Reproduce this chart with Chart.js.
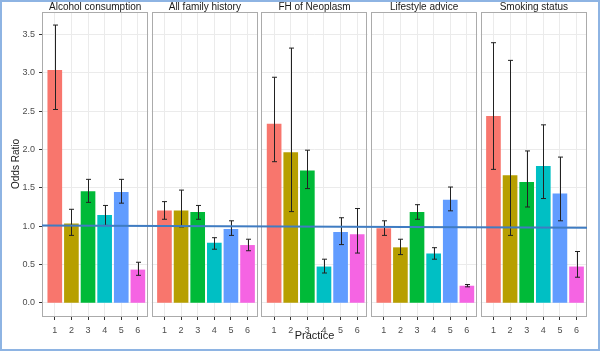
<!DOCTYPE html>
<html>
<head>
<meta charset="utf-8">
<script src="https://cdn.jsdelivr.net/npm/chart.js@4"></script>
<style>
  body { margin: 0; background: #fff; }
  canvas { display: block; }
</style>
</head>
<body>
<canvas id="grafico" width="600" height="351"></canvas>
<script>
// facet panels
var paineis = ['Alcohol consumption', 'All family history', 'FH of Neoplasm', 'Lifestyle advice', 'Smoking status'];
var praticas = ['1', '2', '3', '4', '5', '6'];

// odds ratio per practice, one array per panel
var alcool = [3.03, 1.03, 1.45, 1.14, 1.44, 0.43];
var historico = [1.20, 1.20, 1.18, 0.78, 0.96, 0.75];
var neoplasia = [2.33, 1.96, 1.72, 0.47, 0.92, 0.89];
var estilo = [0.97, 0.72, 1.18, 0.64, 1.34, 0.22];
var fumo = [2.43, 1.66, 1.57, 1.78, 1.42, 0.47];

// confidence interval ends
var alcoolInf = [2.52, 0.88, 1.31, 1.01, 1.30, 0.36];
var alcoolSup = [3.62, 1.22, 1.61, 1.27, 1.61, 0.53];
var historicoInf = [1.09, 0.99, 1.09, 0.70, 0.88, 0.68];
var historicoSup = [1.32, 1.47, 1.27, 0.85, 1.07, 0.83];
var neoplasiaInf = [1.84, 1.19, 1.49, 0.39, 0.76, 0.65];
var neoplasiaSup = [2.94, 3.32, 1.99, 0.57, 1.11, 1.23];
var estiloInf = [0.88, 0.63, 1.09, 0.57, 1.20, 0.21];
var estiloSup = [1.07, 0.83, 1.28, 0.72, 1.51, 0.24];
var fumoInf = [1.74, 0.88, 1.25, 1.36, 1.07, 0.335];
var fumoSup = [3.39, 3.16, 1.98, 2.32, 1.90, 0.67];

// fitted line across all panels
var linhaInicio = 1.01;
var linhaFim = 0.98;

var yTicks = [0, 0.5, 1, 1.5, 2, 2.5, 3, 3.5];

var valores = [alcool, historico, neoplasia, estilo, fumo];
var inferiores = [alcoolInf, historicoInf, neoplasiaInf, estiloInf, fumoInf];
var superiores = [alcoolSup, historicoSup, neoplasiaSup, estiloSup, fumoSup];
var cores = ['#F8766D', '#B79F00', '#00BA38', '#00BFC4', '#619CFF', '#F564E3'];

// panel layout in x units
var larguraPainel = 6.4, espaco = 0.2, margem = 0.77;
var xMax = paineis.length * larguraPainel + (paineis.length - 1) * espaco;
function inicioPainel(i) { return i * (larguraPainel + espaco); }

var pontos = [], coresBarras = [], erros = [], centros = [];
valores.forEach(function(serie, i) {
    serie.forEach(function(v, j) {
        var x = inicioPainel(i) + margem + j;
        pontos.push({ x: x, y: v });
        coresBarras.push(cores[j]);
        erros.push({ x: x, lo: inferiores[i][j], hi: superiores[i][j] });
        centros.push(x);
    });
});

var fonte = 'Liberation Sans, Arial, sans-serif';

var pluginPaineis = {
    id: 'paineis',
    beforeDatasetsDraw: function(chart) {
        var ctx = chart.ctx, a = chart.chartArea, sx = chart.scales.x;
        ctx.save();
        ctx.fillStyle = '#ffffff';
        for (var i = 0; i < paineis.length - 1; i++) {
            var x1 = sx.getPixelForValue(inicioPainel(i) + larguraPainel);
            var x2 = sx.getPixelForValue(inicioPainel(i + 1));
            ctx.fillRect(x1, a.top - 1, x2 - x1, a.bottom - a.top + 2);
        }
        ctx.strokeStyle = '#ABABAB';
        ctx.lineWidth = 1;
        ctx.fillStyle = '#1a1a1a';
        ctx.font = '10px ' + fonte;
        ctx.textAlign = 'center';
        ctx.textBaseline = 'middle';
        paineis.forEach(function(nome, i) {
            var l = sx.getPixelForValue(inicioPainel(i));
            var r = sx.getPixelForValue(inicioPainel(i) + larguraPainel);
            ctx.strokeRect(Math.round(l) + 0.5, a.top + 0.5, Math.round(r - l) - 1, a.bottom - a.top);
            ctx.fillText(nome, (l + r) / 2, a.top - 5);
        });
        ctx.restore();
    },
    afterDatasetDraw: function(chart, args) {
        if (args.index !== 1) return;
        var ctx = chart.ctx, sx = chart.scales.x, sy = chart.scales.y;
        ctx.save();
        ctx.strokeStyle = '#222';
        ctx.lineWidth = 1;
        erros.forEach(function(e) {
            var x = Math.round(sx.getPixelForValue(e.x)) + 0.5;
            var y1 = sy.getPixelForValue(e.lo), y2 = sy.getPixelForValue(e.hi);
            ctx.beginPath();
            ctx.moveTo(x, y1); ctx.lineTo(x, y2);
            ctx.moveTo(x - 2.5, y1); ctx.lineTo(x + 2.5, y1);
            ctx.moveTo(x - 2.5, y2); ctx.lineTo(x + 2.5, y2);
            ctx.stroke();
        });
        ctx.restore();
    },
    afterDraw: function(chart) {
        var ctx = chart.ctx;
        ctx.save();
        ctx.strokeStyle = '#8EB4E3';
        ctx.lineWidth = 2;
        ctx.strokeRect(1, 1, chart.width - 2, chart.height - 2);
        ctx.restore();
    }
};

var ctx = document.getElementById('grafico').getContext('2d');
var grafico = new Chart(ctx, {
    type: 'bar',
    data: {
        datasets: [{
            type: 'line',
            data: [{ x: 0, y: linhaInicio }, { x: xMax, y: linhaFim }],
            borderColor: '#3F7CC2',
            borderWidth: 2,
            pointRadius: 0,
            order: 0
        }, {
            data: pontos,
            backgroundColor: coresBarras,
            barThickness: 14,
            borderWidth: 0,
            order: 1
        }]
    },
    options: {
        responsive: false,
        animation: false,
        devicePixelRatio: 1,
        layout: { padding: { top: 12, right: 13, left: 0, bottom: 0 } },
        plugins: { legend: { display: false }, tooltip: { enabled: false } },
        scales: {
            x: {
                type: 'linear',
                min: 0,
                max: xMax,
                offset: false,
                afterBuildTicks: function(scale) {
                    scale.ticks = centros.map(function(v) { return { value: v }; });
                },
                afterFit: function(scale) { scale.height = 35; },
                ticks: {
                    autoSkip: false,
                    maxRotation: 0,
                    padding: 5,
                    color: '#4D4D4D',
                    font: { family: fonte, size: 9 },
                    callback: function(v, i) { return praticas[i % praticas.length]; }
                },
                grid: { offset: false, color: '#EBEBEB', tickColor: '#333', tickLength: 4 },
                border: { display: false },
                title: {
                    display: true,
                    text: 'Practice',
                    color: '#1a1a1a',
                    font: { family: fonte, size: 11 },
                    padding: { top: 0, bottom: 8 }
                }
            },
            y: {
                min: -0.17,
                max: 3.79,
                afterBuildTicks: function(scale) {
                    scale.ticks = yTicks.map(function(v) { return { value: v }; });
                },
                afterFit: function(scale) { scale.width = 42; },
                ticks: {
                    padding: 4,
                    color: '#4D4D4D',
                    font: { family: fonte, size: 9 },
                    callback: function(v) { return v.toFixed(1); }
                },
                grid: { color: '#EBEBEB', tickColor: '#333', tickLength: 3 },
                border: { display: false },
                title: {
                    display: true,
                    text: 'Odds Ratio',
                    color: '#1a1a1a',
                    font: { family: fonte, size: 10 },
                    padding: { top: 10, bottom: 0 }
                }
            }
        }
    },
    plugins: [pluginPaineis]
});
</script>
</body>
</html>
